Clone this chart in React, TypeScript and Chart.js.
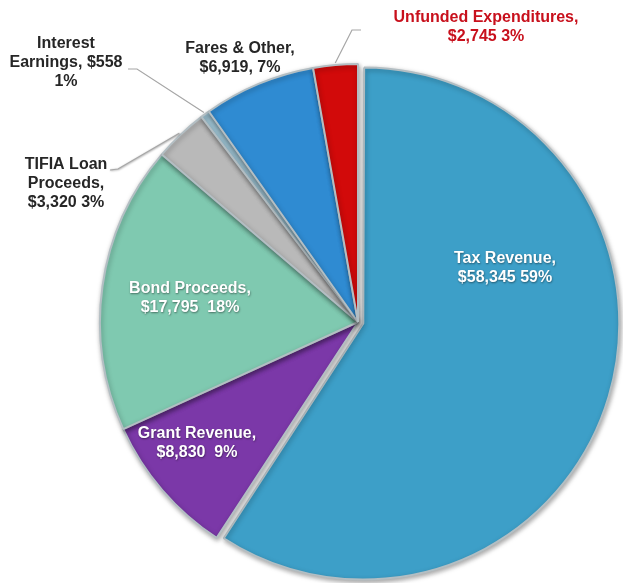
import React, { useEffect, useRef } from "react";
import { Chart, registerables } from "chart.js";

Chart.register(...registerables);

const categories = [
  "Tax Revenue",
  "Grant Revenue",
  "Bond Proceeds",
  "TIFIA Loan Proceeds",
  "Interest Earnings",
  "Fares & Other",
  "Unfunded Expenditures",
];
const amounts = [58345, 8830, 17795, 3320, 558, 6919, 2745];
const labelLines = [
  ["Tax Revenue,", "$58,345 59%"],
  ["Grant Revenue,", "$8,830  9%"],
  ["Bond Proceeds,", "$17,795  18%"],
  ["TIFIA Loan", "Proceeds,", "$3,320 3%"],
  ["Interest", "Earnings, $558", "1%"],
  ["Fares & Other,", "$6,919, 7%"],
  ["Unfunded Expenditures,", "$2,745 3%"],
];
const sliceColors = ["#3d9fc8", "#7b38a8", "#7fc9b0", "#b9b9b9", "#9ec3d3", "#2f8bd2", "#d20a0a"];
const sliceOffsets = [22, 0, 0, 0, 0, 0, 0];
// Chart.js grows an offset slice by offset/4; trim it back so the exploded slice keeps the pie's size
const explodedTrim = 7.5;

// label placement (text centre of first line, optional leader elbow/end)
const labelLayout = [
  { x: 505, y: 259, color: "#ffffff", line: null },
  { x: 197, y: 434, color: "#ffffff", line: null },
  { x: 190, y: 289, color: "#ffffff", line: null },
  { x: 66, y: 165, color: "#262626", line: [[118, 169], [110, 170]] },
  { x: 66, y: 44, color: "#262626", line: [[137, 69], [128, 69]] },
  { x: 240, y: 49, color: "#262626", line: null },
  { x: 486, y: 18, color: "#c8101c", line: [[352, 30], [361, 30]] },
];

const LINE_H = 19;
const FONT = "bold 16px 'Liberation Sans', Arial, sans-serif";

const trimPlugin = {
  id: "explodedTrim",
  afterDatasetUpdate(chart: any, args: any) {
    const meta = chart.getDatasetMeta(args.index);
    meta.data.forEach((arc: any, i: number) => {
      if (sliceOffsets[i] > 0) arc.outerRadius = arc.outerRadius - explodedTrim;
    });
  },
};

const shadowPlugin = {
  id: "sliceShadow",
  beforeDatasetsDraw(chart: any) {
    const ctx = chart.ctx;
    ctx.save();
    ctx.shadowColor = "rgba(0,0,0,0.35)";
    ctx.shadowBlur = 5;
    ctx.shadowOffsetX = 1;
    ctx.shadowOffsetY = 2;
  },
  afterDatasetsDraw(chart: any) {
    chart.ctx.restore();
  },
};

const labelPlugin = {
  id: "sliceLabels",
  afterDraw(chart: any) {
    const ctx = chart.ctx;
    const meta = chart.getDatasetMeta(0);
    ctx.save();
    meta.data.forEach((arc: any, i: number) => {
      const lay = labelLayout[i];
      if (lay.line) {
        const p = arc.getProps(["x", "y", "startAngle", "endAngle", "outerRadius"], true);
        const mid = (p.startAngle + p.endAngle) / 2;
        const r = p.outerRadius + 2;
        const sx = p.x + Math.cos(mid) * r;
        const sy = p.y + Math.sin(mid) * r;
        ctx.beginPath();
        ctx.strokeStyle = "#a6a6a6";
        ctx.lineWidth = 1.2;
        ctx.moveTo(sx, sy);
        ctx.lineTo(lay.line[0][0], lay.line[0][1]);
        ctx.lineTo(lay.line[1][0], lay.line[1][1]);
        ctx.stroke();
      }
      ctx.font = FONT;
      ctx.textAlign = "center";
      ctx.textBaseline = "middle";
      ctx.fillStyle = lay.color;
      if (lay.color === "#ffffff") {
        ctx.shadowColor = "rgba(0,0,0,0.45)";
        ctx.shadowBlur = 2;
        ctx.shadowOffsetX = 0.5;
        ctx.shadowOffsetY = 0.5;
      } else {
        ctx.shadowColor = "transparent";
        ctx.shadowBlur = 0;
        ctx.shadowOffsetX = 0;
        ctx.shadowOffsetY = 0;
      }
      labelLines[i].forEach((t, k) => {
        ctx.fillText(t, lay.x, lay.y + k * LINE_H);
      });
    });
    ctx.restore();
  },
};

export default function App() {
  const ref = useRef<HTMLCanvasElement | null>(null);
  useEffect(() => {
    document.body.style.margin = "0";
    const canvas = ref.current;
    if (!canvas) return;
    const chart = new Chart(canvas, {
      type: "pie",
      data: {
        labels: categories,
        datasets: [
          {
            data: amounts,
            backgroundColor: sliceColors,
            borderColor: "#b3bec3",
            borderWidth: 2,
            offset: sliceOffsets,
            radius: 258,
            clip: false,
          } as any,
        ],
      },
      options: {
        responsive: false,
        maintainAspectRatio: false,
        animation: false,
        layout: { padding: { left: 93, top: 61, right: 0, bottom: 0 } },
        plugins: {
          legend: { display: false },
          tooltip: { enabled: false },
          title: { display: false },
        },
      },
      plugins: [trimPlugin, shadowPlugin, labelPlugin],
    });
    return () => chart.destroy();
  }, []);
  return (
    <div style={{ position: "absolute", left: 0, top: 0, width: 623, height: 583, background: "#fff" }}>
      <canvas ref={ref} width={623} height={583} style={{ display: "block" }} />
    </div>
  );
}
